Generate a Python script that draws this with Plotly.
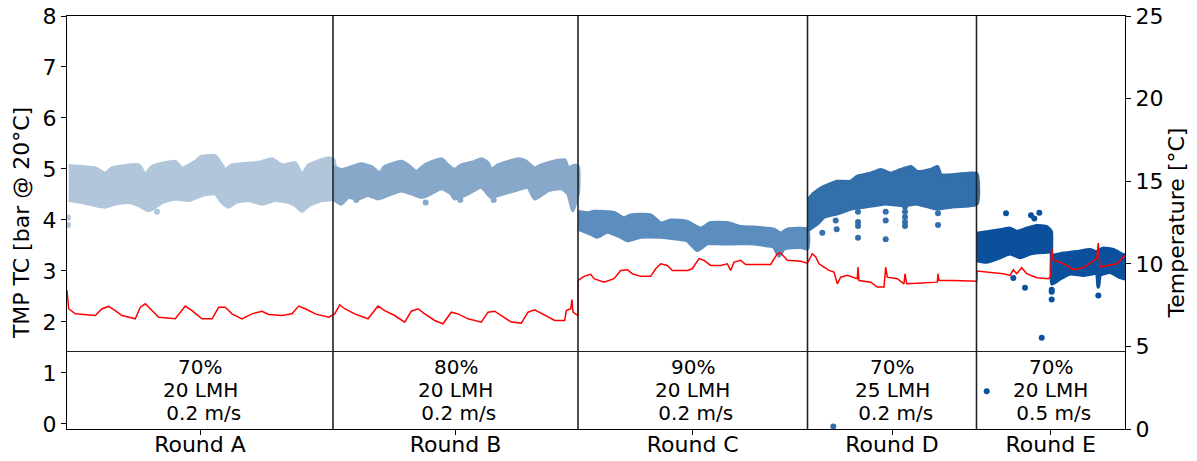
import plotly.graph_objects as go

# ---------------- data ----------------
round_names = ["Round A", "Round B", "Round C", "Round D", "Round E"]
round_bounds = [0.0, 26.6, 51.1, 74.05, 90.95, 105.8]   # days
note_recovery = ["70%", "80%", "90%", "70%", "70%"]
note_flux = ["20 LMH", "20 LMH", "20 LMH", "25 LMH", "20 LMH"]
note_velocity = ["\u00a00.2 m/s", "\u00a00.2 m/s", "\u00a00.2 m/s", "\u00a00.2 m/s", "\u00a00.5 m/s"]
round_colors = ["#b1c6da", "#87a8c9", "#5b8dbe", "#336fab", "#0b509c"]

# TMP band envelopes (upper / lower) per round
a_up_x = [0.17, 2.83, 3.83, 4.5, 7.17, 7.83, 8.5, 10.83, 11.5, 12.83, 13.5, 14.83, 15.83, 16.5, 19.17, 20.5, 21.5, 22.83, 23.5, 24.17, 26.17, 26.67]
a_up_y = [5.06, 5.01, 4.91, 5.01, 5.07, 4.88, 5.04, 5.14, 5.01, 5.14, 5.24, 5.25, 4.98, 5.07, 5.12, 5.19, 5.07, 5.11, 4.88, 5.07, 5.21, 5.17]
a_lo_x = [0.17, 1.5, 2.83, 3.83, 4.83, 6.17, 7.17, 8.17, 8.83, 9.5, 10.83, 12.17, 13.5, 14.83, 15.5, 16.17, 16.83, 18.17, 19.5, 20.83, 22.17, 22.83, 23.5, 24.17, 25.5, 26.67]
a_lo_y = [4.39, 4.35, 4.29, 4.26, 4.32, 4.35, 4.29, 4.19, 4.26, 4.35, 4.42, 4.39, 4.49, 4.52, 4.35, 4.26, 4.35, 4.39, 4.32, 4.39, 4.35, 4.29, 4.18, 4.29, 4.39, 4.42]
a_out_x = [0.1, 0.1, 9.0]
a_out_y = [4.05, 3.9, 4.16]

b_up_x = [26.6, 27.43, 28.1, 29.43, 30.43, 31.27, 31.77, 33.43, 34.1, 34.93, 35.77, 37.43, 38.1, 38.77, 39.43, 40.77, 41.43, 42.1, 42.43, 43.1, 45.1, 45.77, 46.77, 47.43, 49.1, 49.77, 50.1, 50.77, 51.1]
b_up_y = [5.04, 4.98, 5.01, 5.09, 5.04, 4.91, 5.04, 5.14, 5.07, 4.94, 5.07, 5.19, 5.07, 4.98, 5.07, 5.14, 5.19, 5.11, 4.98, 5.07, 5.19, 5.16, 5.01, 5.07, 5.16, 5.17, 5.01, 5.07, 5.04]
b_lo_x = [26.6, 27.43, 28.1, 29.1, 30.1, 31.1, 32.1, 33.43, 34.43, 35.43, 36.1, 37.43, 38.43, 38.77, 40.1, 41.43, 42.43, 43.1, 44.77, 46.1, 46.77, 48.1, 49.43, 50.1, 50.6, 50.93, 51.1]
b_lo_y = [4.42, 4.32, 4.45, 4.42, 4.49, 4.42, 4.49, 4.58, 4.52, 4.45, 4.49, 4.62, 4.52, 4.42, 4.52, 4.65, 4.45, 4.49, 4.58, 4.65, 4.42, 4.58, 4.62, 4.52, 4.19, 4.42, 4.52]
b_out_x = [28.93, 35.87, 39.33, 42.67]
b_out_y = [4.39, 4.34, 4.39, 4.39]

c_up_x = [51.1, 52.03, 52.7, 54.7, 55.7, 56.37, 58.37, 59.37, 60.37, 62.03, 63.37, 64.37, 66.03, 67.37, 68.7, 70.7, 71.37, 72.03, 74.03]
c_up_y = [4.16, 4.13, 4.16, 4.14, 4.03, 4.09, 4.09, 3.93, 3.99, 3.96, 3.83, 3.94, 3.94, 3.86, 3.85, 3.81, 3.73, 3.81, 3.81]
c_lo_x = [51.1, 52.37, 53.03, 54.03, 55.37, 56.03, 57.37, 59.37, 60.7, 62.03, 63.03, 64.03, 65.37, 66.7, 68.7, 70.03, 70.7, 71.2, 71.7, 73.37, 74.03]
c_lo_y = [3.83, 3.73, 3.67, 3.77, 3.67, 3.60, 3.67, 3.67, 3.64, 3.60, 3.41, 3.54, 3.54, 3.54, 3.54, 3.50, 3.47, 3.30, 3.44, 3.47, 3.44]
c_out_x = []
c_out_y = []

d_up_x = [74.1, 74.7, 75.7, 77.03, 78.37, 79.03, 80.37, 81.37, 82.37, 83.37, 84.37, 85.03, 86.37, 87.03, 87.37, 88.7, 90.37, 90.97]
d_up_y = [4.39, 4.52, 4.65, 4.75, 4.75, 4.85, 4.91, 4.98, 4.91, 4.98, 5.04, 4.94, 4.98, 5.04, 4.88, 4.88, 4.91, 4.90]
d_lo_x = [74.1, 75.03, 75.7, 77.03, 78.37, 79.7, 81.7, 83.7, 85.03, 87.03, 88.37, 90.97]
d_lo_y = [3.80, 3.93, 4.06, 4.13, 4.22, 4.26, 4.32, 4.29, 4.32, 4.22, 4.26, 4.32]
d_out_x = [75.53, 76.97, 76.87, 79.1, 79.1, 79.1, 79.1, 81.87, 81.87, 81.87, 83.8, 83.8, 83.8, 83.8, 83.8, 87.1, 87.1, 76.63]
d_out_y = [3.75, 3.82, 3.99, 4.16, 3.96, 3.88, 3.65, 4.16, 3.99, 3.62, 4.26, 4.16, 4.06, 3.96, 3.88, 4.13, 3.90, -0.05]

e_up_x = [90.97, 92.3, 93.63, 94.3, 94.97, 95.97, 96.97, 97.97, 98.4, 98.5, 99.63, 100.97, 102.3, 102.97, 103.63, 104.63, 105.63, 105.8]
e_up_y = [3.73, 3.77, 3.81, 3.83, 3.77, 3.83, 3.88, 3.86, 3.77, 3.31, 3.34, 3.37, 3.41, 3.37, 3.44, 3.41, 3.31, 3.31]
e_lo_x = [90.97, 91.97, 92.97, 94.3, 95.3, 96.3, 97.63, 98.4, 98.5, 99.3, 100.3, 101.63, 102.97, 103.13, 103.3, 104.3, 105.3, 105.8]
e_lo_y = [3.21, 3.18, 3.24, 3.34, 3.27, 3.34, 3.37, 3.37, 2.75, 2.85, 2.95, 2.92, 2.95, 2.69, 2.92, 2.98, 2.88, 2.85]
e_out_x = [93.9, 96.4, 96.73, 97.23, 94.63, 95.8, 98.47, 98.47, 98.47, 103.13, 97.47, 91.97]
e_out_y = [4.13, 4.09, 4.03, 4.14, 2.86, 2.67, 2.63, 2.44, 2.59, 2.52, 1.69, 0.64]

# Temperature (right axis)
temp_x = [0.0, 0.17, 0.83, 2.83, 3.5, 4.17, 4.83, 5.5, 6.83, 7.33, 7.83, 8.5, 9.17, 10.83, 11.83, 12.5, 13.5, 14.5,
          15.17, 15.83, 16.5, 17.5, 18.5, 19.5, 20.17, 21.5, 22.5, 23.17, 23.83, 24.83, 26.17,
          26.77, 27.27, 27.77, 28.77, 30.1, 31.1, 31.77, 32.77, 33.77, 34.43, 35.1, 35.77, 36.77, 37.6, 38.43,
          39.1, 40.1, 41.43, 42.1, 42.77, 43.43, 44.43, 45.43, 46.1, 46.77, 47.77, 48.77, 49.77, 49.93, 50.37,
          50.5, 50.6, 51.1,
          51.12, 51.7, 52.37, 52.7, 53.7, 54.7, 55.37, 56.03, 56.53, 57.37, 58.37, 58.87, 59.37, 60.03, 60.53,
          62.03, 62.53, 63.2, 63.7, 64.37, 65.37, 66.03, 66.37, 66.7, 67.37, 67.87, 70.37, 71.03, 71.37, 72.03,
          73.37, 74.03,
          74.1, 74.53, 74.87, 75.2, 75.7, 76.2, 76.7, 77.03, 77.37, 78.03, 79.03, 79.1, 79.2, 80.37, 81.03, 81.7,
          81.87, 82.03, 83.03, 83.7, 83.8, 83.97, 85.03, 86.37, 87.03, 87.1, 87.2, 88.7, 90.37, 90.97,
          91.0, 92.3, 93.63, 94.3, 94.63, 94.97, 95.47, 95.97, 96.97, 98.13, 98.37, 98.47, 98.63, 99.3, 99.97,
          100.63, 101.63, 102.97, 103.13, 103.3, 104.3, 104.97, 105.8]
temp_y = [8.4, 7.28, 6.97, 6.87, 7.28, 7.42, 7.17, 6.87, 6.67, 7.37, 7.58, 7.17, 6.77, 6.67, 7.44, 7.17, 6.67, 6.67,
          7.37, 7.37, 6.97, 6.67, 6.97, 7.13, 6.93, 6.87, 6.97, 7.44, 7.28, 6.97, 6.77,
          6.97, 7.52, 7.28, 6.97, 6.67, 7.44, 7.17, 6.87, 6.47, 7.13, 7.28, 6.97, 6.57, 6.37, 7.07,
          6.97, 6.67, 6.47, 7.07, 7.13, 6.87, 6.47, 6.41, 7.07, 7.22, 6.87, 6.57, 6.57, 7.17, 7.28,
          7.84, 7.07, 6.87,
          8.99, 9.24, 9.36, 9.10, 8.89, 9.10, 9.60, 9.64, 9.40, 9.24, 9.24, 9.70, 10.0, 9.90, 9.60,
          9.60, 9.70, 10.31, 10.21, 9.90, 9.90, 10.0, 9.60, 10.10, 10.21, 9.96, 9.96, 10.61, 10.65, 10.21,
          10.16, 10.04,
          10.10, 10.61, 10.41, 10.0, 9.80, 9.60, 9.50, 8.79, 9.19, 9.30, 9.10, 9.80, 8.99, 8.89, 8.59, 8.59,
          9.80, 9.19, 9.10, 8.79, 9.40, 8.79, 8.83, 8.89, 8.89, 9.40, 8.99, 8.99, 8.95, 8.95,
          9.56, 9.50, 9.40, 9.30, 9.64, 9.40, 9.76, 9.40, 9.16, 9.10, 9.24, 10.92, 10.21, 10.10, 9.90,
          9.64, 9.76, 10.31, 11.26, 9.80, 9.90, 10.0, 10.51]

split_line_value = 1.42
note_line_levels = [1.11, 0.66, 0.22]   # TMP-axis heights of the three note lines
tmp_ticks = [0, 1, 2, 3, 4, 5, 6, 7, 8]
temp_ticks = [0, 5, 10, 15, 20, 25]

# ---------------- figure ----------------
bands = [
    (a_up_x, a_up_y, a_lo_x, a_lo_y, a_out_x, a_out_y),
    (b_up_x, b_up_y, b_lo_x, b_lo_y, b_out_x, b_out_y),
    (c_up_x, c_up_y, c_lo_x, c_lo_y, c_out_x, c_out_y),
    (d_up_x, d_up_y, d_lo_x, d_lo_y, d_out_x, d_out_y),
    (e_up_x, e_up_y, e_lo_x, e_lo_y, e_out_x, e_out_y),
]

fig = go.Figure()
for (ux, uy, lx, ly, ox, oy), col, name in zip(bands, round_colors, round_names):
    fig.add_trace(go.Scatter(
        x=list(ux) + list(lx)[::-1], y=list(uy) + list(ly)[::-1],
        mode="lines", fill="toself", fillcolor=col,
        line=dict(color=col, width=4, shape="spline", smoothing=0.5),
        hoverinfo="skip", showlegend=False, name=name))
    if ox:
        fig.add_trace(go.Scatter(x=ox, y=oy, mode="markers",
                                 marker=dict(color=col, size=6, line=dict(width=0)),
                                 showlegend=False))

fig.add_trace(go.Scatter(x=temp_x, y=temp_y, mode="lines", yaxis="y2",
                         line=dict(color="#ff0000", width=1.5), showlegend=False))

x0, x1 = round_bounds[0], round_bounds[-1]
centers = [(round_bounds[i] + round_bounds[i + 1]) / 2 for i in range(len(round_names))]

shapes = []
for b in round_bounds[1:-1]:
    shapes.append(dict(type="line", xref="x", yref="paper", x0=b, x1=b, y0=0, y1=1,
                       line=dict(color="#222222", width=1.6)))
shapes.append(dict(type="line", xref="paper", yref="y", x0=0, x1=1,
                   y0=split_line_value, y1=split_line_value, line=dict(color="#222222", width=1)))

annotations = []
for c, r, f, v in zip(centers, note_recovery, note_flux, note_velocity):
    for txt, lvl in zip([r, f, v], note_line_levels):
        annotations.append(dict(x=c, y=lvl, xref="x", yref="y", text=txt, showarrow=False,
                                font=dict(size=20, color="black", family="DejaVu Sans"),
                                yanchor="middle", xanchor="center"))

axis_common = dict(showline=True, linecolor="black", linewidth=1, ticks="outside", ticklen=5,
                   tickcolor="black", showgrid=False, zeroline=False, automargin=False,
                   tickfont=dict(size=22))

fig.update_layout(
    width=1197, height=461,
    margin=dict(l=67, r=72, t=16, b=32),
    paper_bgcolor="white", plot_bgcolor="white",
    font=dict(family="DejaVu Sans", size=22, color="black"),
    shapes=shapes, annotations=annotations,
    xaxis=dict(range=[x0, x1], tickmode="array", tickvals=centers, ticktext=round_names,
               mirror=True, ticklabelstandoff=-9, **axis_common),
    yaxis=dict(range=[-0.1, 8], tickmode="array", tickvals=tmp_ticks,
               title=dict(text="TMP TC [bar @ 20°C]", font=dict(size=22), standoff=6),
               mirror=True, **axis_common),
    yaxis2=dict(range=[0, 25], tickmode="array", tickvals=temp_ticks, overlaying="y", side="right",
                title=dict(text="Temperature [°C]", font=dict(size=22), standoff=6),
                **axis_common),
)

fig.write_html("out.html", config={"displayModeBar": False},
               post_script="document.body.style.margin='0';")
